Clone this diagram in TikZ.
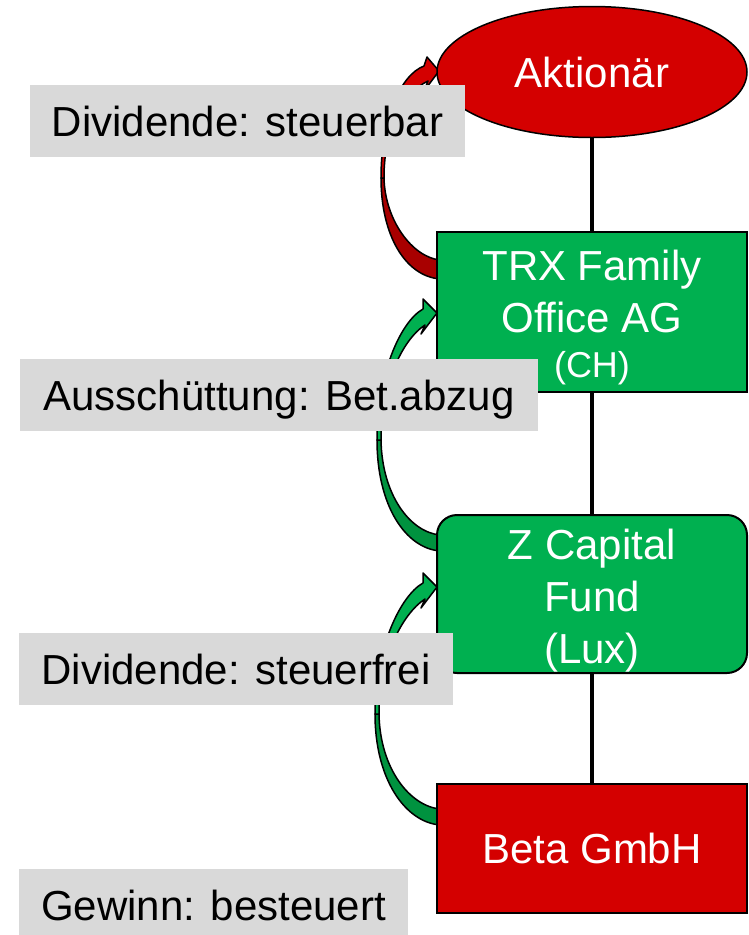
\documentclass[tikz,border=0pt]{standalone}
\usepackage{fontspec}
\setmainfont{Liberation Sans}
\usetikzlibrary{shapes.geometric,backgrounds}
\definecolor{boxred}{HTML}{D40000}
\definecolor{boxgreen}{HTML}{00B050}
\definecolor{darkred}{HTML}{A80000}
\definecolor{darkgreen}{HTML}{00923F}
\definecolor{labelgray}{HTML}{D9D9D9}
\tikzset{
  bigfont/.style={font=\fontsize{42}{52}\selectfont},
  entity/.style={draw=black, line width=2pt, text=white, bigfont, align=center, minimum width=310pt, inner sep=0pt},
  tag/.style={fill=labelgray, bigfont, text=black, inner sep=0pt, text height=30pt, text depth=0pt, minimum height=72pt},
  flowline/.style={line width=4pt, draw=black},
  arrowedge/.style={draw=black, line width=1.5pt, line join=round},
}
\begin{document}
\begin{tikzpicture}[x=1pt,y=-1pt]
\useasboundingbox (0,0) rectangle (749,935);
% entities
\node[entity, ellipse, fill=boxred, minimum height=131pt, line width=1.5pt, text height=30pt, text depth=0pt] (akt) at (592,72) {Aktionär};
\node[entity, rectangle, fill=boxgreen, minimum height=160pt] (trx) at (592,312) {\rule{0pt}{41pt}TRX Family\\Office AG\\[-7pt]{\fontsize{36}{43}\selectfont(CH)}};
\node[entity, rectangle, rounded corners=20pt, fill=boxgreen, minimum height=158pt] (zcap) at (592,594) {\rule{0pt}{44pt}Z Capital\\Fund\\(Lux)};
\node[entity, rectangle, fill=boxred, minimum height=129pt, text height=30pt, text depth=0pt] (beta) at (592,848.5) {Beta GmbH};
% vertical connectors
\draw[flowline] (akt) -- (trx);
\draw[flowline] (trx) -- (zcap);
\draw[flowline] (zcap) -- (beta);
% curved arrows behind
\begin{pgfonlayer}{background}
  % red arrow: TRX -> Aktionaer
  \path[arrowedge, fill=darkred] (381,178) .. controls (381,235) and (405,276) .. (440,279)
     -- (440,260) .. controls (412,257) and (385,220) .. (384,178) -- cycle;
  \path[arrowedge, fill=boxred] (424,66) .. controls (400,75) and (381,120) .. (381,178)
     -- (384,178) .. controls (384,125) and (405,92) .. (428,81)
     -- (424,91) -- (439,71) -- (427,57) -- cycle;
  % green arrow: Z Capital -> TRX
  \path[arrowedge, fill=darkgreen] (377,440) .. controls (377,505) and (405,548) .. (440,551)
     -- (440,535) .. controls (410,532) and (382,495) .. (381,440) -- cycle;
  \path[arrowedge, fill=boxgreen] (423,309) .. controls (400,322) and (377,375) .. (377,440)
     -- (381,440) .. controls (381,385) and (402,340) .. (425,325)
     -- (421,334) -- (437,313) -- (423,299) -- cycle;
  % green arrow: Beta -> Z Capital
  \begin{scope}[shift={(0,274)}]
  \path[arrowedge, fill=darkgreen] (375,440) .. controls (375,505) and (405,548) .. (440,551)
     -- (440,535) .. controls (410,532) and (380,495) .. (379,440) -- cycle;
  \path[arrowedge, fill=boxgreen] (423,309) .. controls (400,322) and (375,375) .. (375,440)
     -- (379,440) .. controls (379,385) and (402,340) .. (425,325)
     -- (421,334) -- (437,313) -- (423,299) -- cycle;
  \end{scope}
\end{pgfonlayer}
% labels
\node[tag, minimum width=435pt] (l1) at (247.5,121) {Dividende: steuerbar};
\node[tag, minimum width=518pt] (l2) at (279,395) {Ausschüttung: Bet.abzug};
\node[tag, minimum width=434pt] (l3) at (236,669) {Dividende: steuerfrei};
\node[tag, minimum width=389pt] (l4) at (213.5,905) {Gewinn: besteuert};
\end{tikzpicture}
\end{document}
